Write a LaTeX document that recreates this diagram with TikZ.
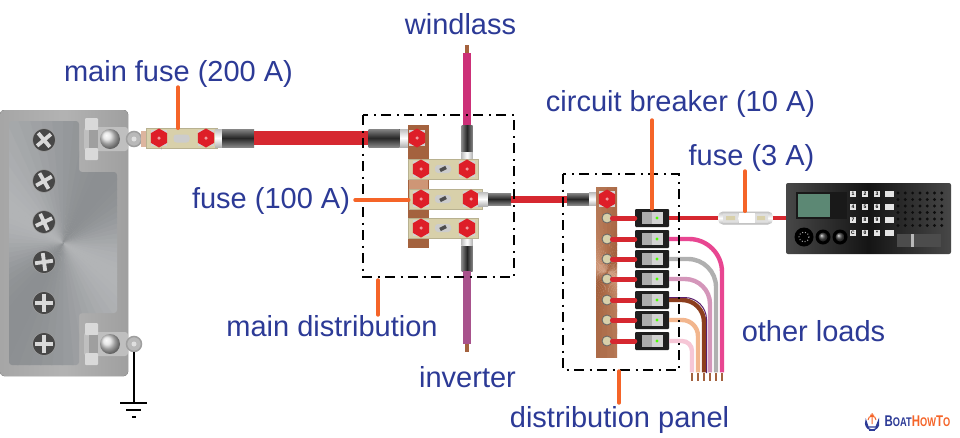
\documentclass[tikz,border=0pt]{standalone}
\usepackage{fontspec}
\setmainfont{Liberation Sans}
\usetikzlibrary{shapes.geometric}
\definecolor{labelblue}{RGB}{44,58,150}
\definecolor{leaderorange}{RGB}{245,100,40}
\definecolor{cablered}{RGB}{214,40,48}
\definecolor{boltred}{RGB}{222,30,40}
\definecolor{fusebeige}{RGB}{216,208,170}
\definecolor{copperdark}{RGB}{164,98,62}
\definecolor{copperlight}{RGB}{206,150,118}
\definecolor{sleeveblack}{RGB}{52,52,52}
\definecolor{metallight}{RGB}{178,180,182}
\definecolor{metaldark}{RGB}{140,143,146}
\definecolor{windlasspink}{RGB}{204,48,120}
\definecolor{inverterpurple}{RGB}{168,82,140}
\definecolor{brownedge}{RGB}{90,30,110}
\definecolor{lcdgreen}{RGB}{92,136,116}
\definecolor{loadpink}{RGB}{232,70,145}
\definecolor{loadgray}{RGB}{176,176,176}
\definecolor{loadmauve}{RGB}{212,150,186}
\definecolor{loadbrown}{RGB}{140,62,30}
\definecolor{loadpeach}{RGB}{242,182,142}
\definecolor{loadrose}{RGB}{246,198,214}
\tikzset{
  lbl/.style={text=labelblue,inner sep=0,font=\fontsize{29}{32}\selectfont},
  leader/.style={draw=leaderorange,line width=3.4,line cap=round},
  dashbox/.style={draw=black,line width=1.7,dash pattern=on 10pt off 5.5pt on 2pt off 5.5pt},
  fuseblock/.style={draw=fusebeige!85!black,line width=.4,fill=fusebeige,minimum height=20,inner sep=0},
  redbolt/.style={regular polygon,regular polygon sides=6,fill=boltred,minimum size=19,inner sep=0,rotate=30},
  boltcap/.style={circle,fill=white!55!boltred,minimum size=3.5,inner sep=0},
  sleeve/.style={fill=sleeveblack,top color=sleeveblack!60,bottom color=sleeveblack!60,middle color=black!85,inner sep=0},
  silver/.style={top color=gray!50,bottom color=gray!60,middle color=white,inner sep=0},
  silverv/.style={left color=gray!50,right color=gray!60,middle color=white,inner sep=0},
  sleevev/.style={left color=sleeveblack!60,right color=sleeveblack!60,middle color=black!85,inner sep=0},
  tip/.style={fill=copperdark,inner sep=0,minimum width=4.5,minimum height=8},
  breaker/.style={fill=black!88,rounded corners=1,minimum width=34,minimum height=18,inner sep=0},
  load/.style={line width=4.4},
  key/.style={fill=white!90!black,minimum size=6.5,inner sep=0,font=\fontsize{5}{5}\selectfont\bfseries},
}
% radial brushed metal
\newcommand{\brushed}[4]{%
  \foreach \a in {0,5,...,355}{
    \pgfmathsetmacro{\m}{50+50*cos(2*(\a-30))}
    \fill[#2!\m!#3] (#1) -- +(\a:#4) -- +(\a+5.6:#4) -- cycle;
  }}
% bolt with a red hex head
\newcommand{\hexbolt}[2]{%
  \fill[gray!35] ([xshift=-8,yshift=-8]#2) rectangle ([xshift=8,yshift=8]#2);
  \node[redbolt] (#1) at (#2) {};
  \node[boltcap] at (#1) {};}
% slot in the middle of a fuse
\newcommand{\fuseslot}[1]{%
  \fill[gray!40,rounded corners=3] ([xshift=-8,yshift=-4]#1) rectangle ([xshift=8,yshift=4]#1);
  \draw[black!70,line width=3.4] ([xshift=-3,yshift=-1.5]#1) -- ([xshift=3,yshift=1.5]#1);}
\begin{document}
\begin{tikzpicture}[x=1pt,y=-1pt]
      \useasboundingbox[fill=white] (0,0) rectangle (960,437);
      % battery case
      \fill[rounded corners=4,left color=gray!70,right color=gray!75,middle color=gray!60] (0,110) rectangle (128,376);
      \begin{scope}
        \clip[rounded corners=3] (9,121) -- (79,121) -- (79,172) -- (117,172) -- (117,313) -- (79,313) -- (79,365) -- (9,365) -- cycle;
        \brushed{63,243}{metallight}{metaldark}{200}
      \end{scope}
      % battery cells
      \foreach \i/\y/\r in {1/140/40,2/181/30,3/222/25,4/262/8,5/303/0,6/344/0}{
        \node[circle,inner sep=0,minimum size=23,fill=black!72,draw=gray!70,line width=.5] (cell\i) at (44,\y) {};
        \draw[gray!30,line width=3.8,rotate around={\r:(cell\i)}] ([xshift=-9]cell\i.center) -- ([xshift=9]cell\i.center);
        \draw[gray!30,line width=3.8,rotate around={\r:(cell\i)}] ([yshift=-9]cell\i.center) -- ([yshift=9]cell\i.center);
      }
      % battery clamps
      \foreach \n/\y in {pos/139,neg/344}{
        \fill[gray!50,rounded corners=3] (84,\y-12) rectangle (128,\y+12);
        \fill[gray!30,rounded corners=1] (85,\y-21) rectangle (98,\y-9);
        \fill[gray!30,rounded corners=1] (85,\y+9) rectangle (98,\y+21);
        \fill[gray!75] (89,\y-9) rectangle (98,\y+9);
        \shade[ball color=gray!25] (110,\y) circle (10);
        \node[circle,fill=gray!55,draw=gray!75,line width=1.5,minimum size=15,inner sep=0] (ring_\n) at (134,\y) {};
        \node[circle,fill=white!75!gray,minimum size=5,inner sep=0] at (ring_\n) {};
      }
      % ground
      \coordinate (gnd_top) at (134,403);
      \draw[line width=1.4] (ring_neg) -- (gnd_top);
      \draw[line width=1.5] (120,403) -- (147,403) (126,410) -- (141,410) (132,417) -- (136,417);
      % main fuse and cable
      \node[fill=copperlight!70,minimum width=9,minimum height=16,inner sep=0] at (145,139) {};
      \node[fuseblock,minimum width=71] (fuse_main) at (181.5,138.5) {};
      \fuseslot{fuse_main}
      \hexbolt{bolt_ma}{159,138}
      \hexbolt{bolt_mb}{206,138}
      \node[silver,minimum width=8,minimum height=18] (sil_a) at (219,138) {};
      \node[sleeve,minimum width=32,minimum height=18] (slv_a) at (238,138) {};
      \node[silver,minimum width=11,minimum height=18] (sil_b) at (405,138) {};
      \node[sleeve,minimum width=31,minimum height=18] (slv_b) at (384,138) {};
      \draw[cablered,line width=14] (slv_a.east) -- (slv_b.west);
      % main distribution bus
      \node[fill=copperdark,minimum width=21,minimum height=123,inner sep=0] (bus_main) at (418.5,186.5) {};
      \fill[copperlight] (409,179) rectangle (428,189);
      \hexbolt{bolt_in}{417,138}
      % windlass and inverter cables
      \node[tip] (tip_w) at (467,49) {};
      \node[tip] (tip_i) at (467,348) {};
      \node[sleevev,minimum width=11,minimum height=27] (slv_w) at (467,138.5) {};
      \node[silverv,minimum width=11,minimum height=10] at (467,157) {};
      \node[sleevev,minimum width=11,minimum height=26] (slv_i) at (467,258) {};
      \node[silverv,minimum width=11,minimum height=10] at (467,240) {};
      \draw[line width=8,draw=windlasspink] (tip_w.south) -- (slv_w.north);
      \draw[line width=8,draw=inverterpurple] (slv_i.south) -- (tip_i.north);
      % distribution fuses
      \node[fuseblock,minimum width=70] (fuse_w) at (443,169) {};
      \node[fuseblock,minimum width=73] (fuse_p) at (445.5,199) {};
      \node[fuseblock,minimum width=70] (fuse_i) at (443,228) {};
      \foreach \n/\y/\x in {w/169/467,p/199/471,i/228/467}{
        \fuseslot{443,\y}
        \hexbolt{bolt_\n a}{421,\y}
        \hexbolt{bolt_\n b}{\x,\y}
      }
      % feed to the panel
      \node[silver,minimum width=10,minimum height=14] at (483,199) {};
      \node[sleeve,minimum width=23,minimum height=12] (slv_c) at (499.5,199) {};
      \node[sleeve,minimum width=22,minimum height=12] (slv_d) at (578,199) {};
      \node[silver,minimum width=11,minimum height=13] at (594.5,199) {};
      \draw[cablered,line width=7] (slv_c.east) -- (slv_d.west);
      % panel bus
      \begin{scope}
        \clip (596,187) rectangle (617,357);
        \brushed{607,272}{copperlight}{copperdark}{110}
      \end{scope}
      \hexbolt{bolt_pan}{607,199}
      % breakers and load wires
      \foreach \i/\y in {1/218,2/239,3/259,4/279,5/300,6/320,7/341}{
        \node[circle,fill=fusebeige,draw=black!60,line width=.8,minimum size=10,inner sep=0] (scr\i) at (607,\y) {};
        \node[breaker] (brk\i) at (652,\y) {};
        \draw[cablered,line width=5,line cap=round] (scr\i.east) -- (brk\i.west);
        \fill[gray!65] (642,\y-6) rectangle (652,\y+6);
        \fill[gray!35] (652,\y-6) rectangle (663,\y+6);
        \fill[green!70!yellow] (657,\y) circle (1.7);
      }
      \foreach \i/\c/\x/\r in {7/loadrose/692/10,6/loadpeach/698/16,5/loadbrown/704/22,4/loadmauve/710/25,3/loadgray/716/28,2/loadpink/722/33}{
        \node[tip,minimum width=2.5] (tip\i) at (\x,376.5) {};
        \draw[load,draw=\c,rounded corners=\r] (brk\i.east) -| (tip\i.north);
      }
      \draw[line width=1,draw=brownedge,rounded corners=22] (669,297.5) -| (706.5,373);
      % radio feed
      \node[silver,rounded corners=5,minimum width=55,minimum height=13] (fuse_radio) at (745.5,218) {};
      \fill[gray!25] (723,213.5) rectangle (738,222.5) (754,213.5) rectangle (768,222.5);
      \fill[fusebeige] (726,216) rectangle (735,220) (757,216) rectangle (765,220);
      \fill[white] (739,213) rectangle (755,223);
      % radio
      \node[rounded corners=2,left color=black!72,right color=black!72,middle color=black!92,minimum width=165,minimum height=71,inner sep=0] (radio) at (868.5,218.5) {};
      \draw[cablered,line width=4] (brk1.east) -- (fuse_radio.west);
      \draw[cablered,line width=4] (fuse_radio.east) -- (radio.west |- fuse_radio);
      \fill[black!90] (796,192) rectangle (847,219);
      \fill[lcdgreen] (798,194) rectangle (830,217);
      \foreach \x/\a/\b/\c/\d in {853/1/4/7/C,865/2/5/8/0,877/3/6/9/*}{
        \node[key] at (\x,194) {\a};
        \node[key] at (\x,207) {\b};
        \node[key] at (\x,220) {\c};
        \node[key] at (\x,233) {\d};
      }
      \foreach \y in {194,207,220,233}
        \node[key,minimum width=9] at (889,\y) {};
      \foreach \x in {898,905.3,...,943}
        \foreach \y in {193,199.5,...,228}
          \fill[black!95] (\x,\y) circle (1.6);
      \fill[black] (804,237) circle (9.5);
      \draw[gray!70,line width=1,dotted] (804,237) circle (5);
      \foreach \x in {823,840}{
        \fill[black] (\x,237) circle (7.5);
        \shade[ball color=black!70] (\x,237) circle (4.5);
      }
      \fill[black!70] (897,234) rectangle (941,247);
      \fill[gray!55] (911,234) rectangle (914,247);
      % dashed groups
      \draw[dashbox] (363,115) rectangle (514,277);
      \draw[dashbox] (563,174) rectangle (679,370);
      % labels
      \node[lbl] (lbl_main) at (178.5,74) {main fuse (200 A)};
      \node[lbl] (lbl_wind) at (460.5,24) {windlass};
      \node[lbl] (lbl_brk) at (680.5,104) {circuit breaker (10 A)};
      \node[lbl] (lbl_fuse3) at (751.5,158) {fuse (3 A)};
      \node[lbl] (lbl_fuse100) at (271,201) {fuse (100 A)};
      \node[lbl] (lbl_dist) at (332,326) {main distribution};
      \node[lbl] (lbl_inv) at (467.5,377) {inverter};
      \node[lbl] (lbl_other) at (813.5,331) {other loads};
      \node[lbl] (lbl_panel) at (619.5,420) {distribution panel};
      % leader lines
      \coordinate (top_main) at (178,87);
      \coordinate (top_brk) at (652,120);
      \coordinate (top_fuse) at (745,171);
      \coordinate (end_fuse) at (355,200);
      \coordinate (bot_dist) at (378,315);
      \coordinate (box_dist) at (378,280);
      \coordinate (bot_panel) at (619,403);
      \coordinate (box_panel) at (619,371);
      \draw[leader] (top_main) -- (top_main |- fuse_main.north);
      \draw[leader] (top_brk) -- (top_brk |- brk1.north);
      \draw[leader] (top_fuse) -- (top_fuse |- fuse_radio.north);
      \draw[leader] (end_fuse) -- (end_fuse -| fuse_p.west);
      \draw[leader] (bot_dist) -- (box_dist);
      \draw[leader] (bot_panel) -- (box_panel);
      % logo
      \draw[labelblue,line width=1.3,fill=white] (868,427) -- (866,421) arc[start angle=200,end angle=-20,radius=6.6] -- (876,427) -- cycle;
      \draw[labelblue,line width=1.6] (869,430) -- (875,430);
      \draw[leaderorange,line width=1] (872,413) -- (872,424) (868,420) arc[start angle=180,end angle=360,radius=4] (870,415) -- (874,415);
      \node[inner sep=0,anchor=west,font=\bfseries] (logo) at (884.5,421) {\scalebox{.74}[1]{\fontsize{15.5}{16}\selectfont\textcolor{labelblue}{B{\fontsize{12.5}{13}\selectfont OAT}}\textcolor{leaderorange}{H{\fontsize{12.5}{13}\selectfont OW}T{\fontsize{12.5}{13}\selectfont O}}}};
    \end{tikzpicture}
\end{document}
